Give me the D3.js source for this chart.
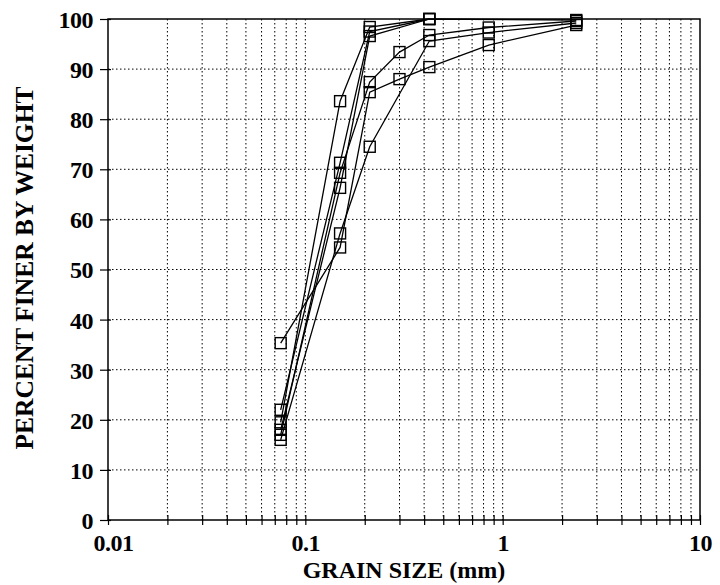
<!DOCTYPE html>
<html><head><meta charset="utf-8">
<script src="https://cdn.jsdelivr.net/npm/d3@7"></script>
<style>html,body{margin:0;padding:0;background:#fff}</style>
</head><body>
<svg id="c" width="720" height="585"></svg>
<script>
// sieve data: [grain size mm, percent finer]
const sample1 = [[0.075,19.5],[0.15,83.6],[0.212,98.4],[0.425,100],[2.36,99.8]];
const sample2 = [[0.075,22.0],[0.15,71.3],[0.212,97.5],[0.425,100]];
const sample3 = [[0.075,35.3],[0.15,54.4],[0.212,85.4],[0.3,88.0],[0.425,90.4],[0.85,94.8],[2.36,98.8]];
const sample4 = [[0.075,17.0],[0.15,69.3],[0.212,87.4],[0.3,93.4],[0.425,96.8],[0.85,98.3],[2.36,99.6]];
const sample5 = [[0.075,16.0],[0.15,57.2],[0.212,74.5],[0.425,95.6],[0.85,97.3],[2.36,99.2]];
const sample6 = [[0.075,18.0],[0.15,66.3],[0.212,96.6],[0.425,100]];
const series = [sample1,sample2,sample3,sample4,sample5,sample6];
const xTickLabels = [0.01,0.1,1,10];
const yTickValues = [0,10,20,30,40,50,60,70,80,90,100];

const svg = d3.select("#c");
const L=108, R=700, T=19, B=520;
const x = d3.scaleLog().domain([0.01,10]).range([L,R]);
const y = d3.scaleLinear().domain([0,100]).range([B,T]);
const font = "'Liberation Serif','Times New Roman',serif";

// minor grid positions
const minors = [];
[0.01,0.1,1].forEach(d=>{for(let k=1;k<=9;k++){minors.push(+(d*k).toPrecision(3));}});
minors.push(10);

const g = svg.append("g");
g.selectAll(".vg").data(minors.filter(v=>v>0.01 && v<10)).enter().append("line")
  .attr("x1",d=>x(d)).attr("x2",d=>x(d)).attr("y1",T).attr("y2",B)
  .attr("stroke","#000").attr("stroke-width",1).attr("stroke-dasharray","1.5,2.5");
g.selectAll(".hg").data(yTickValues.filter(v=>v>0 && v<100)).enter().append("line")
  .attr("x1",L).attr("x2",R).attr("y1",d=>y(d)).attr("y2",d=>y(d))
  .attr("stroke","#000").attr("stroke-width",1).attr("stroke-dasharray","1.5,2.5");

svg.append("rect").attr("x",L).attr("y",T).attr("width",R-L).attr("height",B-T)
  .attr("fill","none").attr("stroke","#000").attr("stroke-width",1.5);

// x axis
const xAxis = d3.axisBottom(x).tickValues(minors).tickSize(5).tickFormat(d=>xTickLabels.includes(d)?String(d):"");
const xg = svg.append("g").attr("transform",`translate(0,${B})`).call(xAxis);
xg.select(".domain").remove();
xg.selectAll(".tick line").attr("y1",-5).attr("y2",5).attr("stroke-width",1.2);
xg.selectAll(".tick text").attr("font-family",font).attr("font-weight","bold").attr("font-size",24)
  .attr("fill","#000").attr("dy","0.95em").attr("y",8).attr("letter-spacing",-0.5)
  .attr("dx",d=>d===0.01?5:0);

// y axis
const yAxis = d3.axisLeft(y).tickValues(yTickValues).tickSize(8);
const yg = svg.append("g").attr("transform",`translate(${L},0)`).call(yAxis);
yg.select(".domain").remove();
yg.selectAll(".tick line").attr("x1",-8).attr("x2",3).attr("stroke-width",1.2);
yg.selectAll(".tick text").attr("font-family",font).attr("font-weight","bold").attr("font-size",24)
  .attr("fill","#000").attr("x",-15).attr("dy","0.35em").attr("letter-spacing",-0.5);

// lines
const line = d3.line().x(d=>x(d[0])).y(d=>y(d[1]));
svg.selectAll(".s").data(series).enter().append("path")
  .attr("d",line).attr("fill","none").attr("stroke","#000").attr("stroke-width",1.3);
const s = 11;
series.forEach(ser=>{
  svg.selectAll(null).data(ser).enter().append("rect")
    .attr("x",d=>x(d[0])-s/2).attr("y",d=>y(d[1])-s/2).attr("width",s).attr("height",s)
    .attr("fill","none").attr("stroke","#000").attr("stroke-width",1.4);
});

// titles
svg.append("text").attr("x",(L+R)/2).attr("y",578).attr("text-anchor","middle")
  .attr("font-family",font).attr("font-weight","bold").attr("font-size",24).text("GRAIN SIZE (mm)");
svg.append("text").attr("transform",`translate(33,268) rotate(-90)`).attr("text-anchor","middle")
  .attr("font-family",font).attr("font-weight","bold").attr("font-size",25.5).text("PERCENT FINER BY WEIGHT");
</script>
</body></html>
